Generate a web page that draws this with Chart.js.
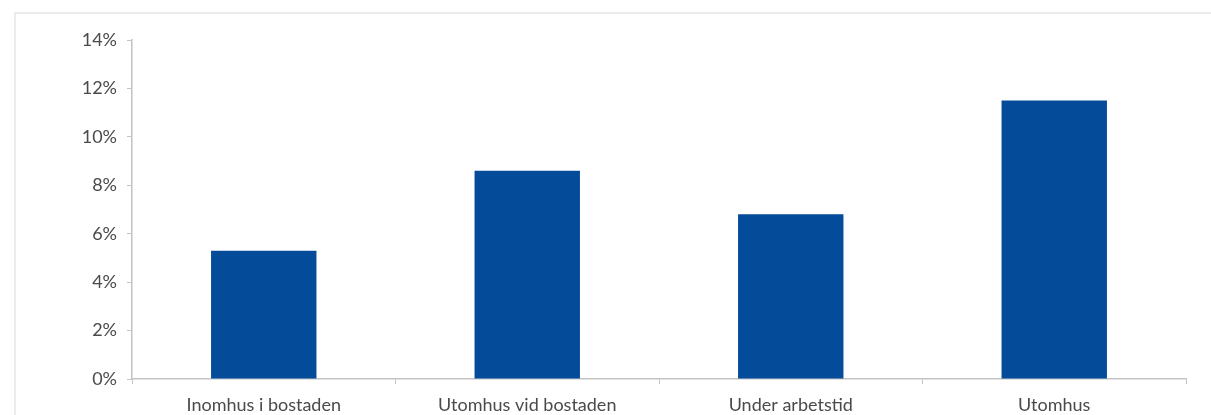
<!DOCTYPE html>
<html>
<head>
<meta charset="utf-8">
<script src="https://cdn.jsdelivr.net/npm/chart.js@4"></script>
<style>
    html, body { margin: 0; padding: 0; background: #fff; }
    #wrap { position: relative; width: 1211px; height: 415px; overflow: hidden; }
    #frame { position: absolute; left: 14px; top: 12px; width: 1300px; height: 500px; border: 2px solid #ebebeb; }
    canvas { position: absolute; left: 0; top: 0; }
</style>
</head>
<body>
<div id="wrap">
    <div id="frame"></div>
    <canvas id="chart" width="1211" height="415"></canvas>
</div>
<script>
// Kategorier och värden (andel i procent)
const categories = ['Inomhus i bostaden', 'Utomhus vid bostaden', 'Under arbetstid', 'Utomhus'];
const values = [5.3, 8.6, 6.8, 11.5];
const yMax = 14;
const yStep = 2;

const axisColor = '#c3c3c3';
const textColor = '#4a4a4a';
const labelFont = { family: 'Lato', size: 18 };

new Chart(document.getElementById('chart'), {
    type: 'bar',
    data: {
        labels: categories,
        datasets: [{
            data: values,
            backgroundColor: '#044c9a',
            barPercentage: 0.4,
            categoryPercentage: 1
        }]
    },
    options: {
        responsive: false,
        animation: false,
        layout: { padding: { top: 40, right: 25, left: 0, bottom: 0 } },
        plugins: {
            legend: { display: false },
            tooltip: { enabled: false }
        },
        scales: {
            x: {
                offset: true,
                border: { color: axisColor, width: 1.5 },
                grid: {
                    offset: true,
                    drawOnChartArea: false,
                    color: axisColor,
                    tickLength: 5
                },
                ticks: {
                    color: textColor,
                    font: labelFont,
                    padding: 10,
                    maxRotation: 0
                },
                afterFit: (scale) => { scale.height = 36; }
            },
            y: {
                min: 0,
                max: yMax,
                border: { color: axisColor, width: 1.5 },
                grid: {
                    drawOnChartArea: false,
                    color: axisColor,
                    tickLength: 5
                },
                ticks: {
                    stepSize: yStep,
                    color: textColor,
                    font: labelFont,
                    padding: 10,
                    callback: (v) => v + '%'
                },
                afterFit: (scale) => { scale.width = 132; }
            }
        }
    }
});
</script>
</body>
</html>
